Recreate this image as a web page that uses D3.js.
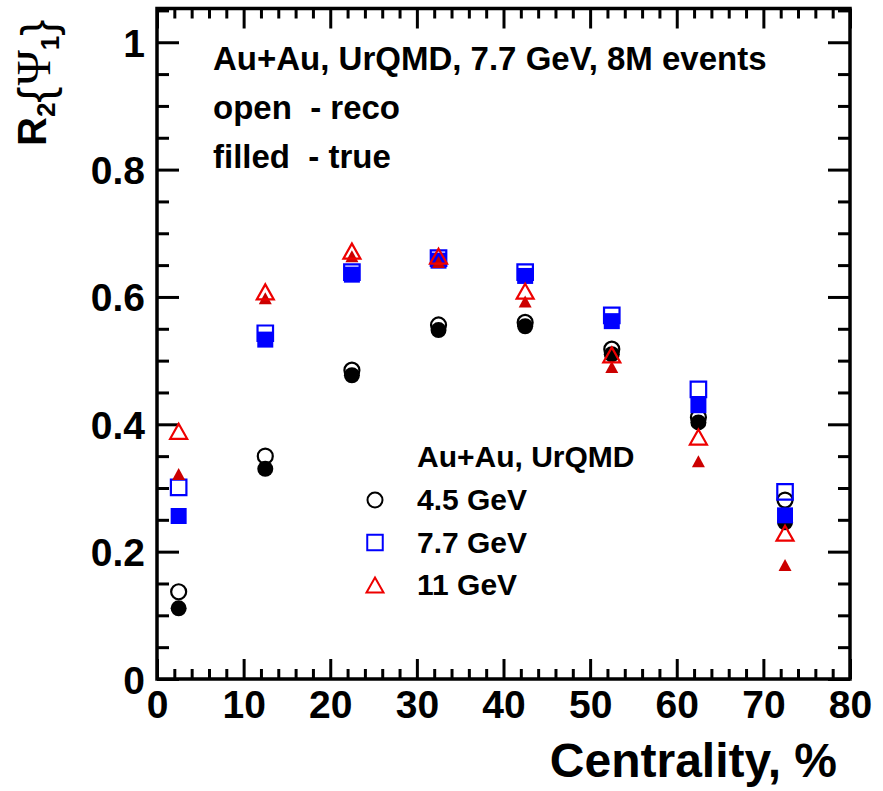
<!DOCTYPE html>
<html lang="en">
<head>
    <meta charset="UTF-8">
    <title>R2{Psi1} vs centrality, UrQMD Au+Au</title>
    <script src="https://d3js.org/d3.v7.min.js"></script>
    <style>
        body {
            margin: 0;
            background: #fff;
        }
        svg {
            display: block;
            font-family: "Liberation Sans", Arial, Helvetica, sans-serif;
            font-weight: bold;
        }
        .axis text {
            font-size: 39px;
            font-weight: bold;
            fill: #000;
        }
        .axis line {
            stroke: #000;
            stroke-width: 3px;
        }
        .note {
            font-size: 33px;
            white-space: pre;
        }
        .legend-text {
            font-size: 30px;
        }
    </style>
</head>
<body>
    <svg id="chart" width="883" height="791"></svg>

    <script>
        // centrality bin centres, %
        const centrality = [2.5, 12.5, 22.5, 32.5, 42.5, 52.5, 62.5, 72.5];

        // R2{Psi1}, open = reco, filled = true
        const reco45 = [0.137, 0.350, 0.485, 0.556, 0.560, 0.518, 0.411, 0.281];
        const true45 = [0.111, 0.330, 0.477, 0.548, 0.554, 0.510, 0.403, 0.246];
        const reco77 = [0.301, 0.543, 0.639, 0.661, 0.639, 0.571, 0.455, 0.294];
        const true77 = [0.256, 0.533, 0.635, 0.657, 0.633, 0.562, 0.430, 0.257];
        const reco11 = [0.389, 0.608, 0.672, 0.664, 0.609, 0.509, 0.380, 0.229];
        const true11 = [0.322, 0.598, 0.664, 0.655, 0.593, 0.490, 0.342, 0.179];

        const xMajor = [0, 10, 20, 30, 40, 50, 60, 70, 80];
        const yMajor = [0, 0.2, 0.4, 0.6, 0.8, 1];
        const legendLabels = ["4.5 GeV", "7.7 GeV", "11 GeV"];
        const notes = ["Au+Au, UrQMD, 7.7 GeV, 8M events", "open  - reco", "filled  - true"];

        const plotL = 157, plotR = 850, plotT = 8.5, plotB = 679;

        const svg = d3.select("#chart");
        const x = d3.scaleLinear().domain([0, 80]).range([plotL, plotR]);
        const y = d3.scaleLinear().domain([0, 1.053]).range([plotB, plotT]);

        const xMinor = d3.range(0, 81, 2).filter(v => v % 10 !== 0);
        const yMinor = d3.range(0, 1.051, 0.05).filter(v => Math.abs(v * 5 - Math.round(v * 5)) > 1e-6);

        // ticks on all four sides, pointing inward
        function drawAxis(axisFn, pos, transform, major, minor, bigTick, smallTick, labels, fmt) {
            svg.append("g").attr("class", "axis").attr("transform", transform)
                .call(axisFn(pos).tickValues(minor).tickSize(-smallTick).tickFormat(""))
                .call(g => g.select(".domain").remove());
            const g = svg.append("g").attr("class", "axis").attr("transform", transform)
                .call(axisFn(pos).tickValues(major).tickSize(-bigTick)
                    .tickFormat(labels ? fmt : ""))
                .call(g => g.select(".domain").remove());
            return g;
        }

        drawAxis(d3.axisBottom, x, `translate(0,${plotB})`, xMajor, xMinor, 20, 10, true, d3.format("d"))
            .call(g => g.selectAll("text").attr("y", 11));
        drawAxis(d3.axisTop, x, `translate(0,${plotT})`, xMajor, xMinor, 20, 10, false);
        drawAxis(d3.axisLeft, y, `translate(${plotL},0)`, yMajor, yMinor, 22, 12, true, d => d === 0 || d === 1 ? d : d.toFixed(1))
            .call(g => g.selectAll("text").attr("x", -12).attr("dy", "0.36em"));
        drawAxis(d3.axisRight, y, `translate(${plotR},0)`, yMajor, yMinor, 22, 12, false);

        svg.append("rect")
            .attr("x", plotL).attr("y", plotT)
            .attr("width", plotR - plotL).attr("height", plotB - plotT)
            .attr("fill", "none").attr("stroke", "#000").attr("stroke-width", 3.5);

        // marker shapes
        const circlePath = r => `M${-r},0A${r},${r} 0 1,0 ${r},0A${r},${r} 0 1,0 ${-r},0Z`;
        const squarePath = s => `M${-s / 2},${-s / 2}h${s}v${s}h${-s}Z`;
        const trianglePath = (w, h) => `M0,${-h / 2}L${w / 2},${h / 2}L${-w / 2},${h / 2}Z`;

        const seriesList = [
            { vals: true45, path: circlePath(8), fill: "#000", stroke: "none" },
            { vals: reco45, path: circlePath(7.5), fill: "none", stroke: "#000" },
            { vals: true77, path: squarePath(16), fill: "#0000ff", stroke: "none" },
            { vals: reco77, path: squarePath(15.5), fill: "none", stroke: "#0000ff" },
            { vals: true11, path: trianglePath(13, 12), fill: "#cc0000", stroke: "none" },
            { vals: reco11, path: trianglePath(17, 15), fill: "none", stroke: "#ee0000" }
        ];

        seriesList.forEach(s => {
            svg.append("g").selectAll("path")
                .data(s.vals.map((v, i) => ({ c: centrality[i], v })))
                .join("path")
                .attr("transform", d => `translate(${x(d.c)},${y(d.v)})`)
                .attr("d", s.path)
                .attr("fill", s.fill)
                .attr("stroke", s.stroke)
                .attr("stroke-width", 2.2);
        });

        // text notes in upper left
        svg.selectAll(".note")
            .data(notes)
            .join("text")
            .attr("class", "note")
            .attr("x", 213)
            .attr("y", (d, i) => 70 + i * 49)
            .text(d => d);

        // legend
        const legend = svg.append("g");
        legend.append("text").attr("class", "legend-text")
            .attr("x", 417).attr("y", 467).text("Au+Au, UrQMD");
        const legendMarks = [
            { path: circlePath(7.5), stroke: "#000" },
            { path: squarePath(15.5), stroke: "#0000ff" },
            { path: trianglePath(17, 15), stroke: "#ee0000" }
        ];
        legendLabels.forEach((lab, i) => {
            const ly = 500 + i * 42.5;
            legend.append("path")
                .attr("transform", `translate(375,${ly})`)
                .attr("d", legendMarks[i].path)
                .attr("fill", "none")
                .attr("stroke", legendMarks[i].stroke)
                .attr("stroke-width", 2);
            legend.append("text").attr("class", "legend-text")
                .attr("x", 417).attr("y", ly + 10).text(lab);
        });

        // x axis title
        svg.append("text")
            .attr("x", 837).attr("y", 777)
            .attr("text-anchor", "end")
            .style("font-size", "48px")
            .text("Centrality, %");

        // y axis title R2{Psi1}
        const yt = svg.append("text")
            .attr("transform", "translate(46,146) rotate(-90)")
            .style("font-size", "40px");
        yt.append("tspan").text("R");
        yt.append("tspan").attr("dy", 9).style("font-size", "26px").text("2");
        yt.append("tspan").attr("dy", -3).style("font-size", "48px").style("font-weight", "normal").text("{");
        yt.append("tspan").attr("dy", -2).attr("dx", 1)
            .style("font-family", "'Liberation Serif', 'DejaVu Serif', serif")
            .style("font-weight", "normal").style("font-size", "48px").text("Ψ");
        yt.append("tspan").attr("dy", 9).style("font-size", "26px").text("1");
        yt.append("tspan").attr("dy", -4).style("font-size", "48px").style("font-weight", "normal").text("}");
    </script>
</body>
</html>
